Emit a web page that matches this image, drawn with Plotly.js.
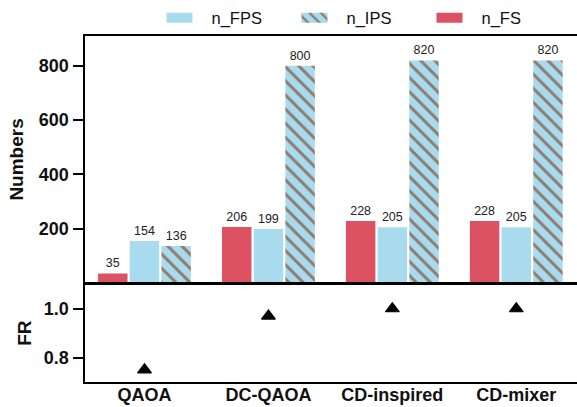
<!DOCTYPE html>
<html>
<head>
<meta charset="utf-8">
<script src="https://cdn.plot.ly/plotly-3.0.1.min.js"></script>
<style>
  html, body { margin: 0; padding: 0; background: #fff; }
  #chart { width: 577px; height: 407px; }
</style>
</head>
<body>
<div id="chart"></div>
<script>
// Methods compared
const methods = ['QAOA', 'DC-QAOA', 'CD-inspired', 'CD-mixer'];

// Counts per method
const nFS  = [35, 206, 228, 228];
const nFPS = [154, 199, 205, 205];
const nIPS = [136, 800, 820, 820];

// Fidelity ratio per method
const fr = [0.75, 0.97, 1.0, 1.0];

// Axis ticks
const countTicks = [200, 400, 600, 800];
const frTicks = [0.8, 1.0];

const RED = '#dd5262';
const BLUE = '#a9dbef';
const STRIPE = '#8f7c71';
const FONT = 'Arial, "Liberation Sans", Helvetica, sans-serif';

const labelFont = { family: FONT, size: 12.5, color: '#222' };

const traces = [
  {
    type: 'bar', name: 'n_FS', x: methods, y: nFS,
    marker: { color: RED, line: { width: 0 } },
    text: nFS, textposition: 'outside', textfont: labelFont,
    constraintext: 'none', cliponaxis: false, legendrank: 3,
    xaxis: 'x', yaxis: 'y', hoverinfo: 'x+y+name'
  },
  {
    type: 'bar', name: 'n_FPS', x: methods, y: nFPS,
    marker: { color: BLUE, line: { width: 0 } },
    text: nFPS, textposition: 'outside', textfont: labelFont,
    constraintext: 'none', cliponaxis: false, legendrank: 1,
    xaxis: 'x', yaxis: 'y', hoverinfo: 'x+y+name'
  },
  {
    type: 'bar', name: 'n_IPS', x: methods, y: nIPS,
    marker: {
      color: BLUE, line: { width: 0 },
      pattern: { shape: '\\', bgcolor: BLUE, fgcolor: STRIPE, size: 10, solidity: 0.3, fillmode: 'replace' }
    },
    text: nIPS, textposition: 'outside', textfont: labelFont,
    constraintext: 'none', cliponaxis: false, legendrank: 2,
    xaxis: 'x', yaxis: 'y', hoverinfo: 'x+y+name'
  },
  {
    type: 'scatter', mode: 'markers', name: 'FR', x: methods, y: fr,
    marker: { symbol: 'triangle-up', size: 12, color: '#000', line: { width: 1.2, color: '#000' } },
    showlegend: false, cliponaxis: false, xaxis: 'x2', yaxis: 'y2'
  }
];

const tickFont = { family: FONT, size: 18, color: '#111', weight: 'bold' };
const catFont = { family: FONT, size: 18, color: '#111', weight: 'bold' };
const titleFont = { family: FONT, size: 19, color: '#111', weight: 'bold' };

const layout = {
  width: 577, height: 407,
  margin: { l: 85, r: 0, t: 33, b: 25 },
  paper_bgcolor: '#fff', plot_bgcolor: '#fff',
  barmode: 'group', bargap: 0.233, bargroupgap: 0.07,
  showlegend: true,
  legend: {
    orientation: 'h', x: 0.127, xanchor: 'left', y: 1.052, yanchor: 'middle',
    font: { family: FONT, size: 16.5, color: '#111' },
    itemwidth: 54, entrywidth: 66, entrywidthmode: 'pixels',
    bgcolor: 'rgba(0,0,0,0)', borderwidth: 0
  },
  xaxis: {
    domain: [0, 1], anchor: 'y', range: [-0.48, 3.49],
    showline: true, linecolor: '#000', linewidth: 2, mirror: true,
    showticklabels: false, ticks: '', showgrid: false, zeroline: false
  },
  yaxis: {
    domain: [0.2865, 1], anchor: 'x', range: [0, 910],
    tickvals: countTicks, ticks: 'outside', ticklen: 10, tickwidth: 2, tickcolor: '#000',
    showline: true, linecolor: '#000', linewidth: 2.5,
    showgrid: false, zeroline: false, tickfont: tickFont,
    title: { text: 'Numbers', font: titleFont, standoff: 10 }
  },
  xaxis2: {
    domain: [0, 1], anchor: 'y2', matches: 'x',
    showline: true, linecolor: '#000', linewidth: 2, mirror: true,
    ticks: '', showgrid: false, zeroline: false, tickfont: catFont,
    ticklabelstandoff: -5
  },
  yaxis2: {
    domain: [0, 0.2822], anchor: 'x2', range: [0.7, 1.1],
    tickvals: frTicks, tickformat: '.1f', ticks: 'outside', ticklen: 10, tickwidth: 2, tickcolor: '#000',
    showline: true, linecolor: '#000', linewidth: 2.5,
    showgrid: false, zeroline: false, tickfont: tickFont,
    title: { text: 'FR', font: titleFont, standoff: 7 }
  }
};

Plotly.newPlot('chart', traces, layout, { displayModeBar: false, staticPlot: true }).then(function (gd) {
  // widen the legend swatches into flat bars
  gd.querySelectorAll('.legend .legendpoints path').forEach(function (p) {
    p.setAttribute('d', 'M13,5H-13V-5H13Z');
  });
});
</script>
</body>
</html>
